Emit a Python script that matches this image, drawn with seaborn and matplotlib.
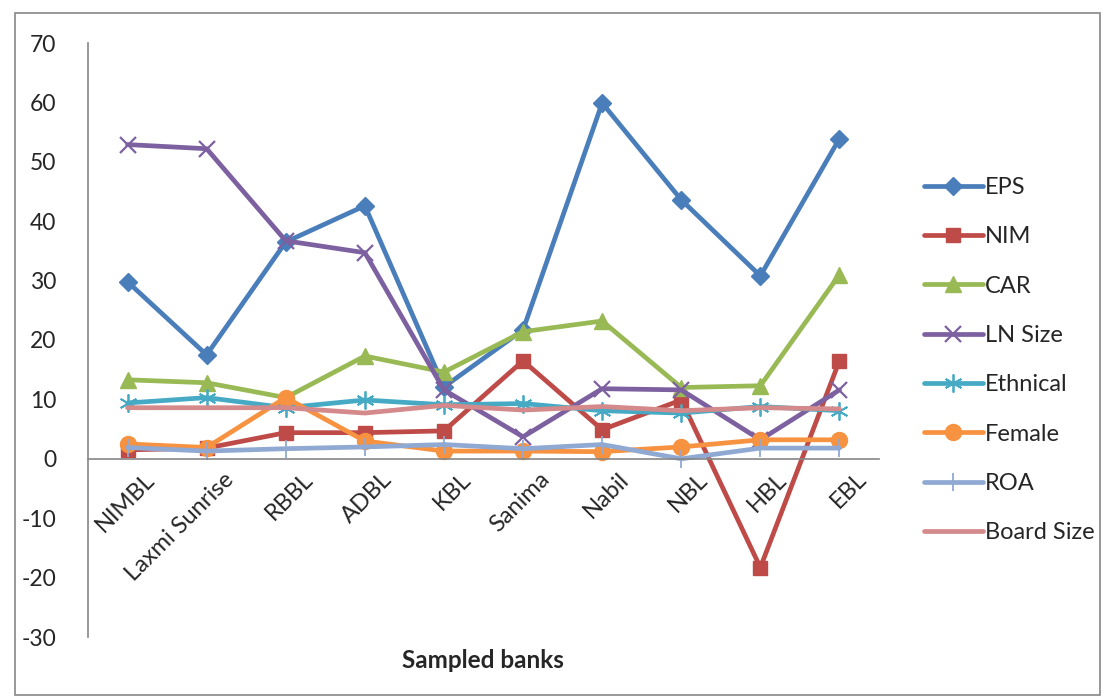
import numpy as np
import pandas as pd
import matplotlib
matplotlib.use("Agg")
import matplotlib.pyplot as plt
import seaborn as sns
from matplotlib.patches import Rectangle

banks = ["NIMBL", "Laxmi Sunrise", "RBBL", "ADBL", "KBL", "Sanima", "Nabil", "NBL", "HBL", "EBL"]

eps = [29.8, 17.5, 36.5, 42.6, 12.1, 21.7, 59.9, 43.6, 30.8, 53.9]
nim = [1.5, 1.8, 4.4, 4.4, 4.7, 16.5, 4.9, 9.9, -18.3, 16.5]
car = [13.3, 12.8, 10.3, 17.3, 14.6, 21.4, 23.2, 12.0, 12.3, 31.0]
ln_size = [52.9, 52.2, 36.7, 34.7, 11.6, 3.7, 11.8, 11.6, 3.2, 11.6]
ethnical = [9.4, 10.3, 8.6, 9.9, 9.1, 9.3, 8.1, 7.7, 8.8, 8.1]
female = [2.5, 1.9, 10.3, 3.0, 1.3, 1.3, 1.2, 2.0, 3.2, 3.2]
roa = [1.9, 1.3, 1.7, 2.0, 2.4, 1.7, 2.4, 0.0, 1.8, 1.8]
board_size = [8.6, 8.6, 8.6, 7.7, 9.0, 8.2, 8.8, 8.1, 8.6, 8.4]

df = pd.DataFrame({
    "EPS": eps, "NIM": nim, "CAR": car, "LN Size": ln_size,
    "Ethnical": ethnical, "Female": female, "ROA": roa, "Board Size": board_size,
})
df["pos"] = np.arange(len(banks))

# colour, marker, marker size, edge width for each series
styles = {
    "EPS": ("#4A7EBB", "D", 9.5, 1),
    "NIM": ("#BE4B48", "s", 10.5, 1),
    "CAR": ("#98B954", "^", 11.5, 1),
    "LN Size": ("#7D60A0", "x", 11, 1.6),
    "Ethnical": ("#46AAC5", (6, 2, 0), 13, 1.3),
    "Female": ("#F69240", "o", 11.5, 1),
    "ROA": ("#8FA9D3", "|", 13, 1.3),
    "Board Size": ("#D4898A", None, 0, 0),
}

sns.set_style("white")
plt.rcParams["font.family"] = ["Lato", "DejaVu Sans"]
plt.rcParams["axes.unicode_minus"] = False

fig = plt.figure(figsize=(11.04, 6.98), dpi=100)
ax = fig.add_axes([88 / 1104, 61 / 698, 791 / 1104, 594 / 698])

for name, (col, mk, ms, mew) in styles.items():
    sns.lineplot(data=df, x="pos", y=name, ax=ax, color=col, linewidth=3.4,
                 marker=mk, markersize=ms, markeredgecolor=col, markeredgewidth=mew,
                 label=name)

ax.set_xlim(-0.5, 9.5)
ax.set_ylim(-30, 70)
ax.set_yticks(np.arange(-30, 71, 10))
ax.set_xlabel("")
ax.set_ylabel("")

# x axis sits on y = 0, boundaries get ticks, names at category centres
ax.spines["bottom"].set_position(("data", 0))
ax.set_xticks(np.arange(-0.5, 10, 1))
ax.set_xticklabels([])
ax.set_xticks(np.arange(len(banks)), minor=True)
ax.set_xticklabels(banks, minor=True, rotation=45, ha="right", va="top",
                   rotation_mode="anchor", fontsize=17)
ax.tick_params(axis="x", which="minor", length=0, pad=7)
ax.tick_params(axis="x", which="major", length=6, width=1.2, color="#868686", direction="out")
ax.tick_params(axis="y", length=5, width=1.2, color="#868686", direction="out",
               labelsize=16.5, pad=18)
for lbl in ax.get_xticklabels(minor=True):
    lbl.set_transform(lbl.get_transform() + matplotlib.transforms.ScaledTranslation(0.16, 0, fig.dpi_scale_trans))

for s in ["top", "right"]:
    ax.spines[s].set_visible(False)
for s in ["left", "bottom"]:
    ax.spines[s].set_color("#868686")
    ax.spines[s].set_linewidth(1.2)

leg = ax.legend(loc="center left", bbox_to_anchor=(1.03, 0.466), frameon=False,
                fontsize=17, handlelength=2.5, labelspacing=1.2, handletextpad=0.1)

fig.text(483 / 1104, 37 / 698, "Sampled banks", ha="center", va="center",
         fontsize=17.5, fontweight="bold")

fig.patches.append(Rectangle((15 / 1104, 3 / 698), 1085 / 1104, 682 / 698,
                             transform=fig.transFigure, fill=False,
                             edgecolor="#868686", linewidth=1.2))

fig.savefig("out.png", dpi=100)
